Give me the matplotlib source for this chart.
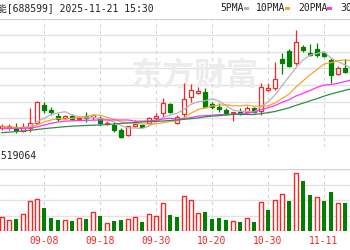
import matplotlib
matplotlib.use("Agg")
import matplotlib.pyplot as plt
from matplotlib.patches import Rectangle

# 每日K线 (价格)
opens = [16.42, 16.48, 16.50, 16.24, 16.40, 16.70, 17.80, 17.50, 17.16, 17.00,
         17.14, 16.96, 17.14, 17.06, 17.00, 16.66, 16.60, 16.30, 16.00, 16.54,
         16.58, 16.70, 17.00, 17.30, 17.86, 16.70, 17.24, 18.30, 18.54, 18.60,
         17.84, 17.70, 17.50, 17.30, 17.40, 17.40, 17.64, 17.44, 18.70, 18.80,
         20.54, 21.06, 20.30, 21.30, 20.90, 21.14, 20.90, 20.50, 19.66, 20.00,
         19.90]
closes = [16.54, 16.51, 16.30, 16.48, 16.74, 18.00, 17.50, 17.40, 16.96, 17.14,
          16.94, 17.04, 17.00, 17.20, 16.70, 16.72, 16.30, 15.90, 16.52, 16.64,
          16.51, 17.00, 17.14, 17.90, 17.40, 17.06, 18.16, 18.70, 18.66, 17.66,
          17.66, 17.54, 17.30, 17.36, 17.26, 17.60, 17.40, 18.86, 18.80, 19.34,
          20.34, 20.14, 21.60, 21.10, 20.80, 20.80, 20.74, 19.60, 20.04, 19.80,
          19.72]
highs = [16.66, 16.66, 16.74, 16.74, 17.62, 18.04, 18.00, 17.70, 17.30, 17.20,
         17.26, 17.11, 17.40, 17.26, 17.14, 16.84, 16.80, 16.40, 16.57, 16.90,
         16.63, 17.10, 17.30, 18.20, 17.94, 17.20, 19.14, 19.04, 18.90, 18.80,
         17.98, 17.90, 17.60, 17.40, 17.60, 17.74, 17.70, 19.14, 19.12, 20.40,
         20.94, 21.14, 22.30, 21.40, 21.46, 21.54, 21.00, 20.60, 20.14, 20.54,
         20.02]
lows = [16.30, 16.30, 16.10, 16.18, 16.20, 16.66, 17.34, 17.20, 16.86, 16.96,
        16.90, 16.90, 16.80, 16.90, 16.60, 16.60, 16.20, 15.82, 15.97, 16.50,
        16.48, 16.66, 16.90, 17.10, 17.30, 16.66, 17.10, 18.00, 18.46, 17.60,
        17.56, 17.40, 17.20, 16.84, 17.20, 17.34, 17.30, 17.23, 18.67, 18.70,
        19.66, 20.08, 20.20, 21.00, 20.74, 20.70, 20.66, 19.10, 19.60, 19.70,
        19.60]

# 均线
ma5 = [16.40, 16.41, 16.42, 16.45, 16.51, 16.80, 17.00, 17.22, 17.32, 17.40,
       17.19, 17.10, 17.02, 17.06, 16.98, 16.93, 16.78, 16.56, 16.43, 16.42,
       16.39, 16.53, 16.78, 17.05, 17.20, 17.30, 17.53, 17.84, 18.00, 18.05,
       18.17, 18.04, 17.76, 17.50, 17.42, 17.41, 17.38, 17.70, 17.98, 18.40,
       18.95, 19.50, 20.04, 20.50, 20.80, 20.89, 21.01, 20.61, 20.40, 20.20,
       19.98]
ma10 = [16.50, 16.48, 16.45, 16.44, 16.44, 16.60, 16.78, 16.90, 16.99, 16.95,
        17.00, 17.05, 17.12, 17.19, 17.19, 17.06, 16.94, 16.79, 16.75, 16.70,
        16.66, 16.66, 16.67, 16.74, 16.81, 16.85, 17.03, 17.31, 17.53, 17.63,
        17.74, 17.79, 17.81, 17.76, 17.74, 17.80, 17.72, 17.74, 17.75, 17.92,
        18.19, 18.45, 18.88, 19.25, 19.61, 19.93, 20.26, 20.34, 20.46, 20.51,
        20.45]
ma20 = [16.40, 16.40, 16.40, 16.40, 16.42, 16.48, 16.60, 16.70, 16.78, 16.83,
        16.85, 16.87, 16.88, 16.89, 16.90, 16.90, 16.90, 16.90, 16.90, 16.83,
        16.83, 16.85, 16.89, 16.96, 17.00, 16.95, 16.98, 17.05, 17.13, 17.16,
        17.19, 17.22, 17.23, 17.24, 17.27, 17.31, 17.37, 17.52, 17.63, 17.77,
        17.96, 18.11, 18.34, 18.50, 18.67, 18.86, 18.99, 19.03, 19.10, 19.21,
        19.31]
ma30 = [16.14, 16.17, 16.21, 16.24, 16.28, 16.33, 16.38, 16.42, 16.46, 16.50,
        16.53, 16.55, 16.57, 16.59, 16.60, 16.63, 16.66, 16.69, 16.72, 16.75,
        16.78, 16.80, 16.82, 16.84, 16.87, 16.90, 16.94, 16.98, 17.02, 17.09,
        17.13, 17.16, 17.20, 17.23, 17.24, 17.23, 17.23, 17.28, 17.34, 17.41,
        17.52, 17.63, 17.78, 17.91, 18.05, 18.18, 18.33, 18.46, 18.57, 18.68,
        18.78]

# 成交量 (手) 和颜色方向 (1 红, 0 绿)
volumes = [117000, 92000, 100000, 142000, 252000, 268000, 193000, 109000, 92000, 92000,
           84000, 109000, 100000, 159000, 126000, 67000, 84000, 92000, 100000, 117000,
           75000, 142000, 126000, 235000, 134000, 117000, 294000, 260000, 151000, 159000,
           100000, 109000, 92000, 84000, 75000, 109000, 75000, 243000, 176000, 260000,
           310000, 252000, 486000, 419000, 302000, 285000, 252000, 327000, 235000, 235000,
           184000]
vol_up = [1, 1, 0, 1, 1, 1, 0, 0, 0, 1,
          0, 1, 0, 1, 0, 1, 0, 0, 1, 1,
          0, 1, 1, 1, 0, 0, 1, 1, 1, 0,
          0, 0, 0, 1, 0, 1, 0, 1, 0, 1,
          1, 0, 1, 0, 0, 1, 0, 0, 1, 0,
          0]

date_pos = [6, 14, 22, 30, 38, 46]
date_labels = ["09-08", "09-18", "09-30", "10-20", "10-30", "11-11"]

RED = "#f02828"
GREEN = "#008000"
GRID = "#e2e2e2"

fig = plt.figure(figsize=(3.5, 2.5), dpi=100)
W, H = 350, 250


def axes_px(top, bottom):
    return fig.add_axes([0, (H - bottom) / H, 1, (bottom - top) / H])


xlo, xhi = -2 / 7, 348 / 7
n = len(closes)
xs = list(range(n))

# ---- 价格区 ----
ax = axes_px(19, 147)
ax.set_xlim(xlo, xhi)
ax.set_ylim(15.28, 22.96)
for lv in [16, 17, 18, 19, 20, 21, 22]:
    ax.axhline(lv, color=GRID, lw=1.0, zorder=0)
ax.axhline(22.96, color="#c4c4c4", lw=1.2, zorder=0)
for p in date_pos:
    ax.axvline(p, color="#d4d4d4", lw=0.8, ls=(0, (3, 3)), zorder=0)

ax.text(0.555, 0.55, "东方财富", transform=ax.transAxes, ha="center", va="center",
        fontsize=23, fontweight="bold", color="#ececec", family="Noto Sans CJK SC", zorder=0)

for i in xs:
    o, c, h, l = opens[i], closes[i], highs[i], lows[i]
    up = c >= o
    col = RED if up else GREEN
    ax.vlines(i, l, h, color=col, lw=0.9, zorder=2)
    bot = min(o, c)
    ht = max(abs(c - o), 0.03)
    ax.add_patch(Rectangle((i - 0.33, bot), 0.66, ht,
                           facecolor="white" if up else GREEN, edgecolor=col,
                           lw=0.9, zorder=3))

ax.plot(xs, ma5, color="#b4b4b4", lw=0.9, zorder=4)
ax.plot(xs, ma10, color="#f3a72e", lw=0.9, zorder=4)
ax.plot(xs, ma20, color="#ff33ff", lw=0.9, zorder=4)
ax.plot(xs, ma30, color="#2e8b4e", lw=0.9, zorder=4)
ax.axis("off")

# ---- 成交量区 ----
vx = axes_px(169, 231)
vx.set_xlim(xlo, xhi)
vx.set_ylim(0, 520000)
for lv in [130000, 260000, 390000]:
    vx.axhline(lv, color=GRID, lw=1.0, zorder=0)
vx.axhline(520000, color="#d0d0d0", lw=1.0, zorder=0)
for p in date_pos:
    vx.axvline(p, color="#d4d4d4", lw=0.8, ls=(0, (3, 3)), zorder=0)
for i in xs:
    if vol_up[i]:
        vx.bar(i, volumes[i], width=0.62, facecolor="white", edgecolor=RED, lw=1.0, zorder=3)
    else:
        vx.bar(i, volumes[i], width=0.7, color=GREEN, lw=0, zorder=3)
vx.axis("off")

# ---- 文字 ----
mono = ["DejaVu Sans Mono", "Noto Sans CJK SC"]
fig.text(-3 / W, 1 - 8 / H, "能[688599] 2025-11-21 15:30", family=mono,
         fontsize=7, va="center", ha="left", color="#202020")
legend = [("5PMA", 220, "#b4b4b4"), ("10PMA", 256, "#f3a72e"),
          ("20PMA", 298, "#ff33ff"), ("30PMA", 340, "#2e8b4e")]
for name, px, col in legend:
    t = fig.text(px / W, 1 - 8 / H, name, family=mono, fontsize=7,
                 va="center", ha="left", color="#202020")
    fig.patches.append(Rectangle(((px + len(name) * 5.4 + 2) / W, 1 - 10 / H), 5 / W, 3 / H,
                                 transform=fig.transFigure, facecolor=col, edgecolor="none"))
fig.text(-4 / W, 1 - 156 / H, ":519064", family=mono, fontsize=7,
         va="center", ha="left", color="#202020")
for p, lab in zip(date_pos, date_labels):
    fig.text((2 + 7 * p) / W, 1 - 241 / H, lab, family=mono, fontsize=7,
             va="center", ha="center", color=RED)

fig.savefig("out.png", dpi=100)
